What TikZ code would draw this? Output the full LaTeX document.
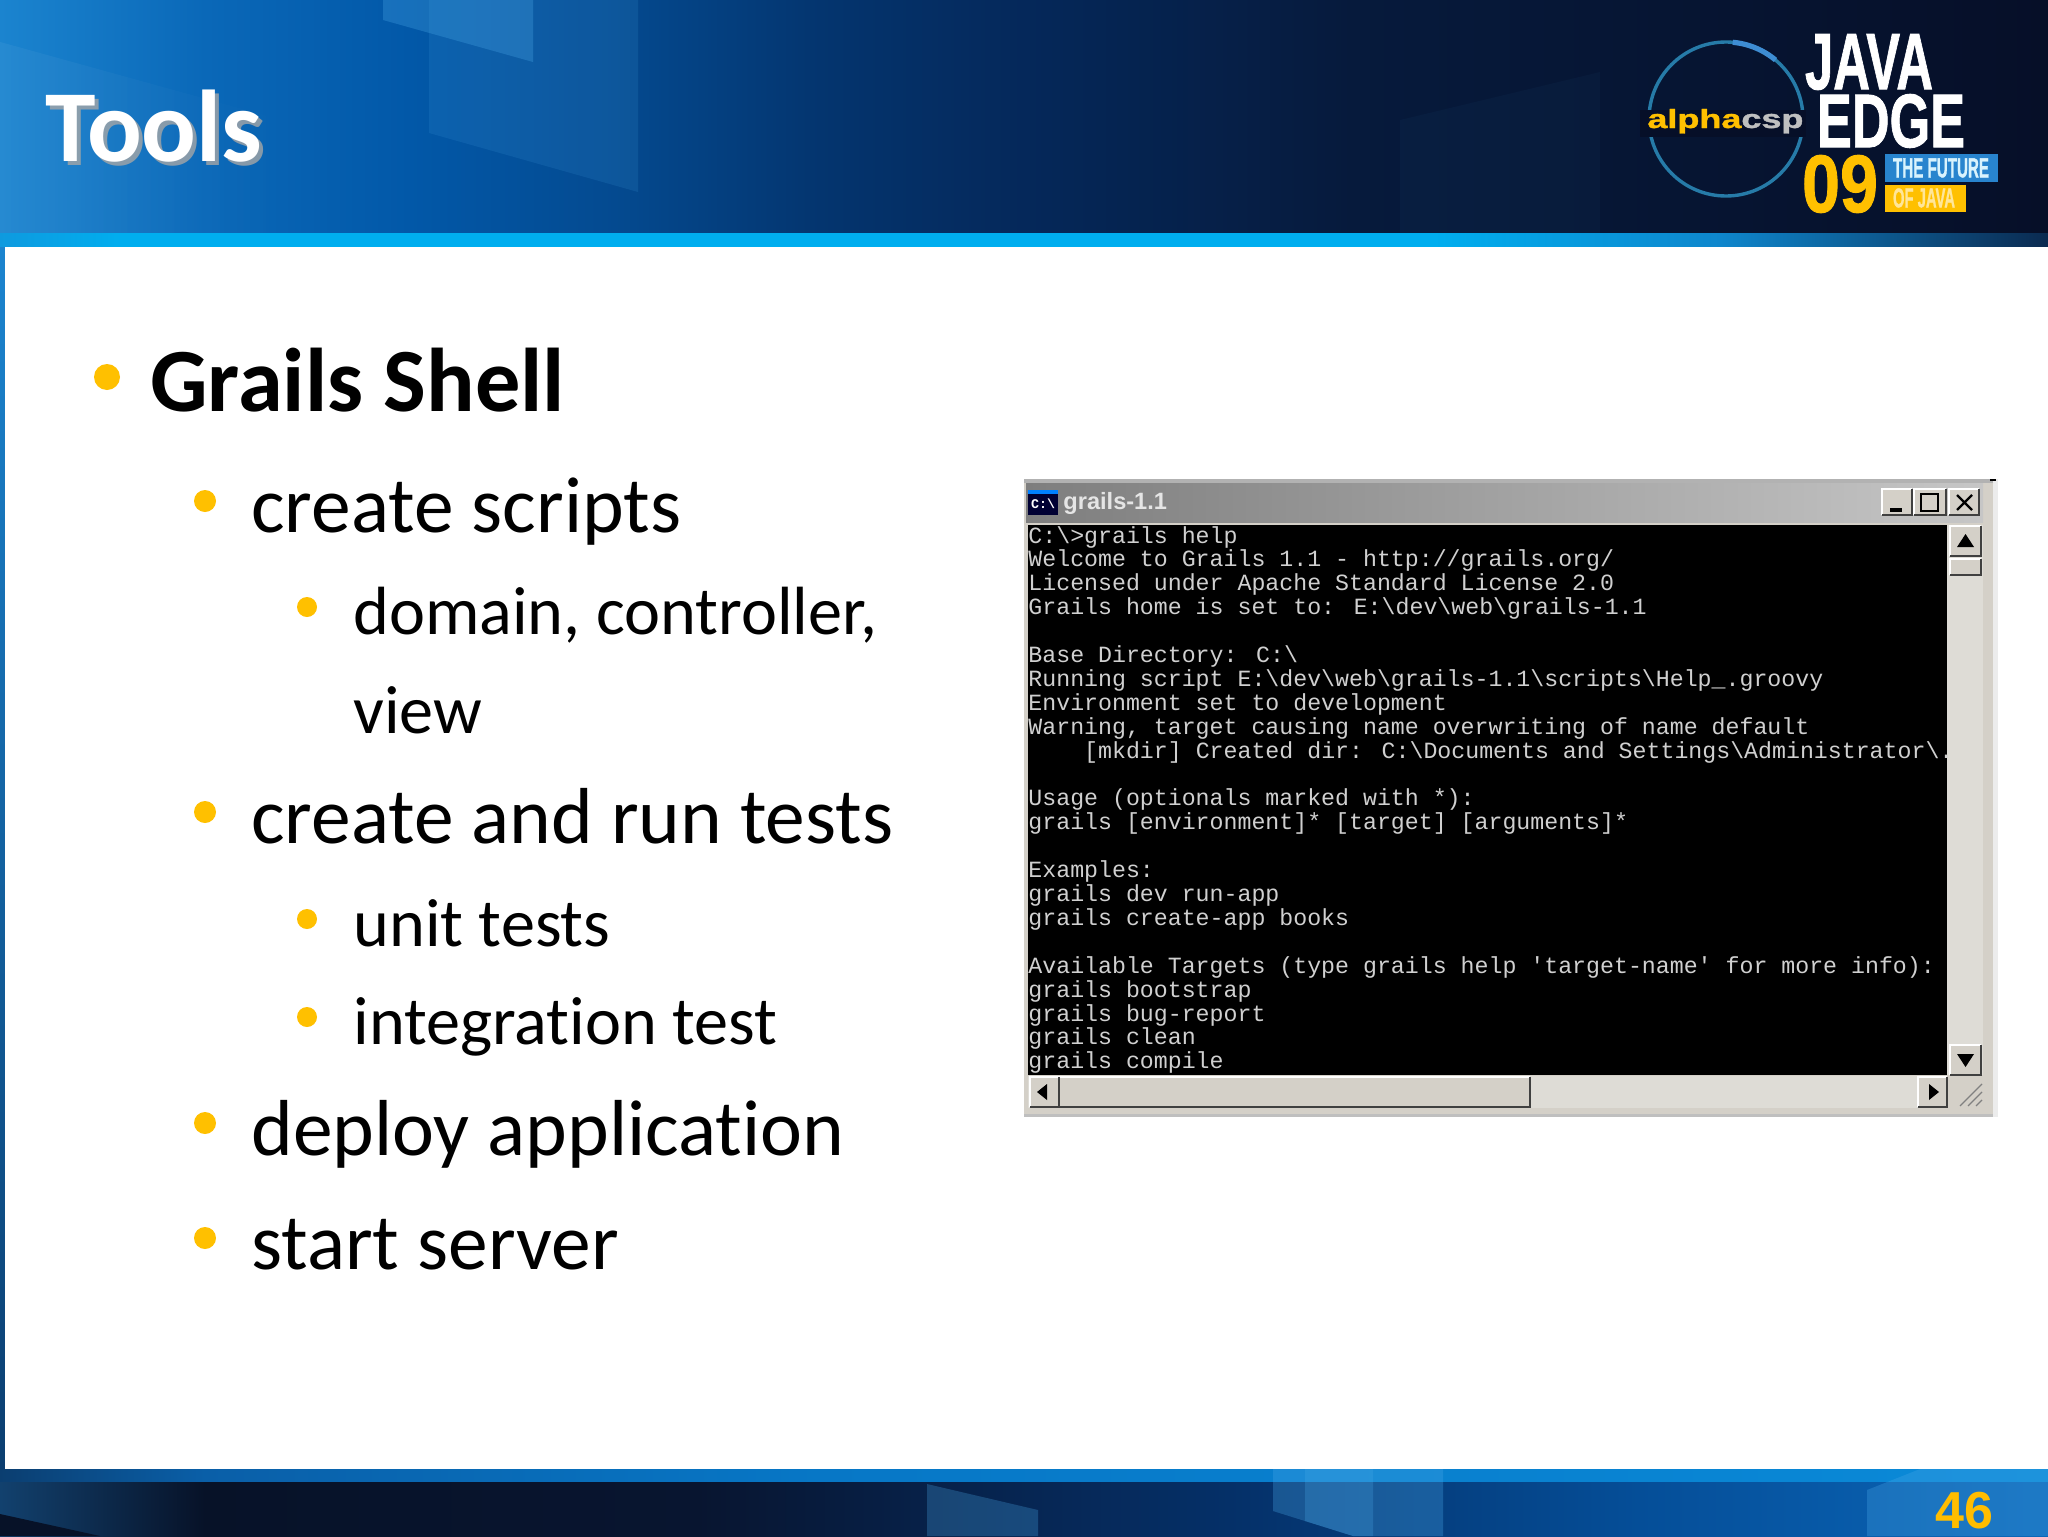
\documentclass[tikz,border=0pt]{standalone}
\usepackage{fontspec}
\usepackage{graphicx}
\setmainfont{Carlito}[Ligatures=NoCommon]
\newfontfamily\termfont{Liberation Mono}
\newfontfamily\logofont{Liberation Sans}
\newfontfamily\heavyfont{Liberation Sans}[FakeBold=1.2]
\usetikzlibrary{calc,fadings}
\definecolor{bulletgold}{HTML}{FFC000}
\definecolor{winface}{HTML}{D4D0C8}
\definecolor{winhatch}{HTML}{DEDCD6}
\definecolor{termgrey}{HTML}{D0D0D0}
\definecolor{veilblue}{HTML}{4AA8E8}
\definecolor{hA}{HTML}{1B84CF}\definecolor{hB}{HTML}{0A68B8}\definecolor{hC}{HTML}{0258A8}
\definecolor{hD}{HTML}{044A90}\definecolor{hE}{HTML}{04356F}\definecolor{hF}{HTML}{05285A}
\definecolor{hG}{HTML}{061A3C}\definecolor{hH}{HTML}{060F28}
\pgfdeclarehorizontalshading{hdrshade}{100bp}{
 color(0bp)=(hA); color(25bp)=(hA); color(30bp)=(hB); color(35bp)=(hC); color(40bp)=(hD);
 color(45bp)=(hE); color(50bp)=(hF); color(58bp)=(hG); color(75bp)=(hH); color(100bp)=(hH)}
\definecolor{fA}{HTML}{12416E}\definecolor{fB}{HTML}{071228}\definecolor{fC}{HTML}{081530}
\definecolor{fD}{HTML}{053068}\definecolor{fE}{HTML}{054E98}\definecolor{fF}{HTML}{0A66B8}
\pgfdeclarehorizontalshading{ftrshade}{100bp}{
 color(0bp)=(fA); color(25bp)=(fA); color(30bp)=(fB); color(42bp)=(fC); color(55bp)=(fD);
 color(65bp)=(fE); color(75bp)=(fF); color(100bp)=(fF)}
\definecolor{bA}{HTML}{0E9ADF}\definecolor{bB}{HTML}{00AEEF}\definecolor{bC}{HTML}{0E86CC}\definecolor{bD}{HTML}{0B2A50}
\pgfdeclarehorizontalshading{bandtop}{100bp}{
 color(0bp)=(bA); color(25bp)=(bA); color(28bp)=(bB); color(60bp)=(bB); color(67bp)=(bC);
 color(75bp)=(bD); color(100bp)=(bD)}
\definecolor{cA}{HTML}{0B3E70}\definecolor{cB}{HTML}{0A5FA8}\definecolor{cC}{HTML}{0777C6}\definecolor{cD}{HTML}{0A8AD8}
\pgfdeclarehorizontalshading{bandbot}{100bp}{
 color(0bp)=(cA); color(25bp)=(cA); color(30bp)=(cB); color(45bp)=(cC); color(75bp)=(cD); color(100bp)=(cD)}
\definecolor{wA}{HTML}{7E7E7E}\definecolor{wB}{HTML}{C6C6C6}
\pgfdeclarehorizontalshading{winbar}{100bp}{
 color(0bp)=(wA); color(25bp)=(wA); color(75bp)=(wB); color(100bp)=(wB)}
\tikzset{
 lvlone/.style={anchor=base west,inner sep=0pt,font=\fontsize{45.2}{54}\selectfont\bfseries,text=black},
 lvltwo/.style={anchor=base west,inner sep=0pt,font=\fontsize{39.7}{47}\selectfont,text=black},
 lvlthree/.style={anchor=base west,inner sep=0pt,font=\fontsize{34.1}{40}\selectfont,text=black},
 termtxt/.style={anchor=base west,inner sep=0pt,font=\termfont\fontsize{11.62}{12}\selectfont,text=termgrey},
 veil/.style={fill=veilblue,opacity=#1},
 logotxt/.style={inner sep=0pt,anchor=center,font=\heavyfont\bfseries}
}
\newcommand{\termline}[2]{\node[termtxt] (t#1) at (1028,{543+23.9*#1}) {#2};}
\newcommand{\bevbtn}[4]{\fill[winface] (#1,#2) rectangle (#3,#4);
 \draw[white,line width=.6pt] (#1,#4) -- (#1,#2) -- (#3,#2);
 \draw[black!75,line width=.8pt] (#1,#4) -- (#3,#4) -- (#3,#2);}
\begin{document}
\begin{tikzpicture}[x=0.5pt,y=-0.5pt]
\useasboundingbox (0,0) rectangle (2048,1536);
% base
\shade[shading=hdrshade] (0,0) rectangle (2048,235);
\fill[white,opacity=.05,path fading=east] (0,42) -- (300,125) -- (300,235) -- (0,235) -- cycle;
\fill[veil=.30] (383,0) -- (383,20) -- (533,62) -- (533,0) -- cycle;
\fill[veil=.14] (429,0) -- (429,133) -- (638,192) -- (638,0) -- cycle;
\fill[veil=.035] (1400,120) -- (1600,72) -- (1600,235) -- (1400,235) -- cycle;
\shade[shading=bandtop] (0,233) rectangle (2048,248);
\shade[top color=hA,bottom color=cA] (0,247) rectangle (5,1470);
\fill[white] (5,247) rectangle (2048,1469);
\shade[shading=ftrshade] (0,1481) rectangle (2048,1536);
\fill[fB] (0,1514) -- (100,1536) -- (0,1536) -- cycle;
\shade[shading=bandbot] (0,1469) rectangle (2048,1481);
\fill[veil=.28] (927,1484) -- (1038,1510) -- (1038,1536) -- (927,1536) -- cycle;
\fill[veil=.30] (1273,1469) -- (1443,1469) -- (1443,1536) -- (1353,1536) -- (1273,1511) -- cycle;
\fill[veil=.25] (1305,1469) -- (1373,1469) -- (1373,1536) -- (1353,1536) -- (1305,1521) -- cycle;
\fill[veil=.30] (1867,1490) -- (1920,1469) -- (2048,1469) -- (2048,1536) -- (1867,1536) -- cycle;
% title
\node[anchor=base west,inner sep=0pt,font=\fontsize{51}{60}\selectfont\bfseries,text=gray!70,opacity=.8] (titleshadow) at (49,165) {Tools};
\node[anchor=base west,inner sep=0pt,font=\fontsize{51}{60}\selectfont\bfseries,text=white] (title) at (45,162) {Tools};
% logo
\draw[line width=1.7pt,color=blue!35!cyan!60!black!85] (1726,119) circle[radius=38.5pt];
\draw[line width=2.6pt,color=cyan!60!blue!80!white,smooth] plot[domain=50:85,samples=12] ({1726+77*cos(\x)},{119-77*sin(\x)});
\fill[color=hH] (1640,110) rectangle (1806,137);
\node[logotxt,anchor=base west] (alpha) at (1647,128) {\resizebox{78pt}{9.5pt}{\textcolor{bulletgold}{alpha}\textcolor{lightgray}{csp}}};
\node[logotxt] (java) at (1869,62) {\resizebox{64pt}{27.5pt}{\textcolor{white}{JAVA}}};
\node[logotxt] (edge) at (1891,121) {\resizebox{74pt}{26.5pt}{\textcolor{white}{EDGE}}};
\node[logotxt] (nine) at (1840,184) {\resizebox{38pt}{28.5pt}{\textcolor{bulletgold}{09}}};
\fill[color=cyan!60!blue!90!white] (1885,154) rectangle (1998,182);
\fill[color=bulletgold] (1885,185) rectangle (1966,212);
\node[logotxt] (future) at (1941,168) {\resizebox{48pt}{9.5pt}{\textcolor{white!85!cyan}{THE FUTURE}}};
\node[logotxt] (ofjava) at (1924,198) {\resizebox{31pt}{9.5pt}{\textcolor{white!60!bulletgold}{OF JAVA}}};
% bullets
\node[lvlone] (a) at (150,411) {Grails Shell};
\node[lvltwo] (b) at (251,532) {create scripts};
\node[lvlthree] (c) at (353,634) {domain, controller,};
\node[lvlthree] (c2) at (353,733) {view};
\node[lvltwo] (d) at (251,843) {create and run tests};
\node[lvlthree] (e) at (353,946) {unit tests};
\node[lvlthree] (f) at (353,1044) {integration test};
\node[lvltwo] (g) at (251,1155) {deploy application};
\node[lvltwo] (h) at (251,1269) {start server};
\fill[bulletgold] (107,377) circle[radius=6.5pt];
\foreach \yy in {501,812,1123,1238} \fill[bulletgold] (205,\yy) circle[radius=5.5pt];
\foreach \yy in {607,919,1017} \fill[bulletgold] (307,\yy) circle[radius=5pt];
% window
\fill[winface] (1024,479) rectangle (1993,1117);
\fill[gray!60] (1024,479) rectangle (1993,483);
\fill[gray!50] (1024,1114) rectangle (1993,1117);
\fill[white!85!gray] (1993,479) rectangle (1998,1117);
\fill[black] (1990,479) rectangle (1996,481);
\shade[shading=winbar] (1026,483) rectangle (1983,522);
\fill[black!80!blue] (1028,490) rectangle (1058,515);
\fill[blue!50!cyan] (1028,490) rectangle (1058,494);
\node[inner sep=0pt,font=\termfont\bfseries\fontsize{7}{8}\selectfont,text=white,scale=.95] (icon) at (1043,504) {C:\textbackslash};
\node[anchor=base west,inner sep=0pt,font=\logofont\bfseries\fontsize{11.8}{14}\selectfont,text=white!80!gray] (wintitle) at (1063,509) {grails-1.1};
\bevbtn{1882}{489}{1912}{515}
\bevbtn{1914}{489}{1946}{515}
\bevbtn{1949}{489}{1979}{515}
\fill[black] (1890,508) rectangle (1902,512);
\draw[black,line width=1pt] (1921,494) rectangle (1938,511);
\draw[black,line width=1.2pt] (1957,495) -- (1972,510) (1972,495) -- (1957,510);
\fill[black] (1028,525) rectangle (1947,1075);
% scrollbars
\fill[winhatch] (1947,525) rectangle (1983,1075);
\fill[winhatch] (1028,1076) rectangle (1947,1108);
\bevbtn{1059}{1077}{1530}{1107}
\bevbtn{1950}{526}{1981}{556}
\bevbtn{1950}{1045}{1981}{1075}
\bevbtn{1950}{559}{1981}{575}
\fill[black] (1965.5,534) -- (1957,547) -- (1974,547) -- cycle;
\fill[black] (1965.5,1067) -- (1957,1054) -- (1974,1054) -- cycle;
\bevbtn{1030}{1077}{1059}{1107}
\bevbtn{1918}{1077}{1947}{1107}
\fill[black] (1037,1092) -- (1047,1084) -- (1047,1100) -- cycle;
\fill[black] (1939,1092) -- (1929,1084) -- (1929,1100) -- cycle;
\draw[gray,line width=.6pt] (1960,1106) -- (1982,1084) (1968,1106) -- (1982,1092) (1976,1106) -- (1982,1100);
% terminal
\termline{0}{C:\textbackslash>grails help}
\termline{1}{Welcome to Grails 1.1 - http://grails.org/}
\termline{2}{Licensed under Apache Standard License 2.0}
\termline{3}{Grails home is set to: E:\textbackslash dev\textbackslash web\textbackslash grails-1.1}
\termline{5}{Base Directory: C:\textbackslash}
\termline{6}{Running script E:\textbackslash dev\textbackslash web\textbackslash grails-1.1\textbackslash scripts\textbackslash Help\_.groovy}
\termline{7}{Environment set to development}
\termline{8}{Warning, target causing name overwriting of name default}
\termline{9}{\hspace*{27.9pt}[mkdir] Created dir: C:\textbackslash Documents and Settings\textbackslash Administrator\textbackslash .}
\termline{11}{Usage (optionals marked with *):}
\termline{12}{grails [environment]* [target] [arguments]*}
\termline{14}{Examples:}
\termline{15}{grails dev run-app}
\termline{16}{grails create-app books}
\termline{18}{Available Targets (type grails help 'target-name' for more info):}
\termline{19}{grails bootstrap}
\termline{20}{grails bug-report}
\termline{21}{grails clean}
\termline{22}{grails compile}
% page number
\node[anchor=base east,inner sep=0pt,font=\logofont\bfseries\fontsize{26}{30}\selectfont,text=bulletgold!95!orange] (pageno) at (1994,1528) {46};
\end{tikzpicture}
\end{document}
